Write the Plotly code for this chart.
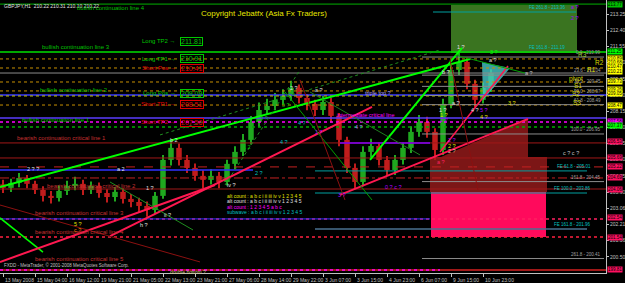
import plotly.graph_objects as go

# ---------------- data ----------------
# 8-hour candles (GBPJPY), oldest first
opens = [204.30, 204.12, 204.38, 204.64, 204.33, 204.01, 203.70, 203.59, 203.96, 204.22,
         204.33, 204.01, 204.22, 203.85, 203.64, 203.91, 203.54, 203.38, 203.17, 202.96,
         203.70, 205.59, 206.22, 205.59, 205.17, 204.75, 204.54, 204.75, 204.43, 205.38,
         206.01, 206.64, 207.58, 208.21, 208.42, 208.74, 208.95, 209.37, 208.84, 208.53,
         208.21, 208.63, 207.90, 206.64, 205.17, 204.43, 206.01, 206.32, 205.59, 205.06,
         205.59, 206.22, 207.06, 207.58, 207.06, 206.11, 208.53, 210.31, 210.73, 209.58,
         208.74, 209.37]
highs = [204.55, 204.60, 204.90, 204.80, 204.50, 204.20, 203.95, 204.25, 204.50, 204.70,
         204.55, 204.45, 204.40, 204.05, 204.15, 204.10, 203.80, 203.60, 203.40, 203.90,
         205.85, 206.60, 206.45, 205.85, 205.40, 205.05, 205.10, 204.95, 205.60, 206.30,
         206.95, 207.90, 208.60, 208.80, 209.10, 209.30, 209.75, 209.55, 209.05, 208.75,
         208.95, 208.85, 208.05, 206.80, 205.40, 206.30, 206.70, 206.50, 205.80, 205.85,
         206.50, 207.35, 207.95, 207.85, 207.25, 208.80, 210.60, 211.25, 210.95, 209.80,
         209.65, 210.35]
lows = [203.85, 203.90, 204.15, 204.10, 203.80, 203.40, 203.30, 203.40, 203.75, 204.00,
        203.75, 203.80, 203.60, 203.35, 203.40, 203.30, 203.10, 202.85, 202.60, 202.75,
        203.55, 205.30, 205.30, 204.90, 204.50, 204.10, 204.30, 204.10, 204.25, 205.10,
        205.80, 206.40, 207.30, 207.95, 208.20, 208.50, 208.70, 208.55, 208.20, 207.90,
        207.95, 207.55, 206.30, 204.90, 204.05, 204.20, 205.70, 205.30, 204.75, 204.80,
        205.35, 205.95, 206.80, 206.75, 205.60, 205.85, 208.30, 210.05, 209.30, 208.35,
        208.55, 209.15]
closes = [204.12, 204.38, 204.64, 204.33, 204.01, 203.70, 203.59, 203.96, 204.22, 204.33,
          204.01, 204.22, 203.85, 203.64, 203.91, 203.54, 203.38, 203.17, 202.96, 203.70,
          205.59, 206.22, 205.59, 205.17, 204.75, 204.54, 204.75, 204.43, 205.38, 206.01,
          206.64, 207.58, 208.21, 208.42, 208.74, 208.95, 209.37, 208.84, 208.53, 208.21,
          208.63, 207.90, 206.64, 205.17, 204.43, 206.01, 206.32, 205.59, 205.06, 205.59,
          206.22, 207.06, 207.58, 207.06, 206.11, 208.53, 210.31, 210.73, 209.58, 208.74,
          209.37, 210.16]
HOURS_PER_CANDLE = 8

time_tick_labels = ["13 May 2008", "15 May 04:00", "16 May 12:00", "19 May 21:00", "21 May 05:00",
                    "22 May 13:00", "23 May 21:00", "27 May 06:00", "28 May 14:00", "29 May 22:00",
                    "3 Jun 07:00", "3 Jun 15:00", "4 Jun 23:00", "6 Jun 07:00", "9 Jun 15:00",
                    "10 Jun 23:00"]
time_tick_hours = [0, 32, 64, 96, 128, 160, 192, 224, 256, 288, 320, 352, 384, 416, 448, 480]

price_ticks = [213.25, 212.40, 211.55, 210.70, 209.85, 209.00, 208.15, 207.30, 206.45,
               205.60, 204.75, 203.90, 203.06, 202.21, 201.36, 200.50]

# full-width horizontal levels
level_prices = [213.77, 211.255, 210.89, 210.415, 210.15, 209.68, 209.21, 209.00, 208.945,
                208.47, 207.79, 207.58, 207.32, 206.48, 205.69, 205.22, 204.64, 204.06,
                202.49, 201.54, 199.81]
# partial horizontal segments (hour start, hour end, price)
seg_start = [-3, 337, 312, 312, 312, 430, -3, -3]
seg_end = [250, 427, 584, 584, 584, 573, 427, 437]
seg_price = [205.06, 206.48, 205.01, 203.85, 201.96, 213.355, 202.49, 199.81]

# fibonacci levels
fib_names = ["0.0", "23.6", "38.2", "50.0", "61.8", "100.0", "161.8", "261.8"]
fib_prices = [210.99, 210.04, 209.45, 208.97, 208.49, 206.95, 204.45, 200.41]
fib_start, fib_end = 419, 601

# FE labels
fe_names = ["FE 261.8 - 213.36", "FE 161.8 - 211.19", "FE 61.8 - 205.01", "FE 100.0 - 203.86",
            "FE 161.8 - 201.96"]
fe_prices = [213.355, 211.255, 205.01, 203.85, 201.96]
fe_hours = [524, 524, 552, 549, 549]

# trend lines (hour0, price0, hour1, price1)
diag_x0 = [-3, 367, -3, -3, 107, 337, 437, 157, 222, 282, 307, 452, 107, -3, 297, 447]
diag_p0 = [204.17, 205.585, 202.54, 200.23, 201.59, 203.75, 206.005, 206.90, 204.27, 209.155,
           209.155, 211.10, 204.43, 203.22, 209.79, 210.835]
diag_x1 = [467, 459, 40, 212, 369, 525, 505, 437, 297, 369, 417, 522, 190, 197, 342, 475]
diag_p1 = [210.89, 211.465, 200.75, 204.27, 208.37, 207.74, 210.52, 211.36, 210.31, 203.485,
           205.85, 210.15, 201.91, 200.23, 203.485, 204.01]

# zones
green_zone_hours = [448, 574]
green_zone_prices = [211.20, 213.72]
maroon_tri_hours = [438, 525, 525]
maroon_tri_prices = [205.74, 207.74, 205.74]
maroon_zone_hours = [427, 544]
maroon_zone_prices = [203.905, 205.74]
pink_zone_hours = [428, 543]
pink_zone_prices = [201.54, 203.905]
cyan_tri_hours = [479, 507, 480]
cyan_tri_prices = [210.73, 210.415, 208.735]

# trade levels
trade_names = ["Long TP2", "Long TP1", "Short Pos", "Long Pos", "Short TP1", "Short TP2"]
trade_prices = [211.81, 210.91, 210.41, 209.09, 208.51, 207.56]

line_names = ["bullish continuation line 4", "bullish continuation line 3",
              "bullish continuation line 2", "bullish continuation line 1",
              "bearish continuation critical line 1", "bearish continuation critical line 2",
              "bearish continuation critical line 3", "bearish continuation critical line 4",
              "bearish continuation critical line 5"]
line_name_hours = [72, 37, 35, 17, 12, 42, 30, 30, 30]
line_name_prices = [213.565, 211.52, 209.26, 207.685, 206.74, 204.22, 202.80, 201.80, 200.39]

pivot_names = ["R3", "R2", "R1", "pivot", "S1", "S2", "S3"]
pivot_hours = [573, 590, 582, 564, 569, 567, 568]
pivot_prices = [211.10, 210.68, 210.31, 209.86, 209.52, 209.10, 208.58]

wave_text = ["1 ?", "3 ?", "a ?", "b ?", "a ?", "a ?", "3 ?", "1 ?", "4 ?", "5 ?", "4 ?", "1 ?",
             "2 ?", "2 ?", "2 ?", "2 ?", "a ?", "c ? c ?", "5 ?", "4 ?", "3 ?", "4 ?", "1 2",
             "2 ?", "iv ?", "1 ?", "4 ?", "2 ?", "a ?", "b 2", "a 2", "2 ? ?", "1 ?", "5 ?",
             "c ?", "h ?", "ii ?", "3 ?", "0 ? c ?", "a ?", "2 ?"]
wave_hours = [452, 485, 484, 437, 520, 447, 503, 434, 466, 475, 475, 435, 435, 443, 443, 443,
              432, 558, 277, 293, 255, 275, 238, 250, 222, 310, 350, 285, 310, 165, 112, 22,
              141, 69, 69, 135, 159, 333, 380, 566, 566]
wave_prices = [211.52, 211.255, 210.84, 210.205, 210.15, 208.58, 208.58, 208.21, 208.21, 208.21,
               207.84, 207.95, 207.685, 206.635, 206.32, 206.06, 205.48, 205.95, 208.47, 207.53,
               207.79, 206.53, 206.27, 204.90, 204.27, 207.055, 207.32, 209.365, 209.26, 206.635,
               205.11, 205.11, 204.115, 202.22, 201.90, 202.17, 202.70, 203.75, 204.17, 213.62,
               213.04]
wave_colors = ["#e0e0e0", "#00ff00", "#e0e0e0", "#e0e0e0", "#c0c0c0", "#e0e0e0", "#e0e000",
               "#e0e0e0", "#e0e0e0", "#b000ff", "#e0e000", "#e0e000", "#b000ff", "#b000ff",
               "#e0e000", "#e0c0a0", "#ff2060", "#c0c0c0", "#00c000", "#00c0c0", "#00c000",
               "#00c0c0", "#00c000", "#00c0c0", "#e0e0e0", "#b000ff", "#b080ff", "#e0e0e0",
               "#e0e0e0", "#e0e0e0", "#e0e0e0", "#e0e0e0", "#e0e0e0", "#e0e000", "#ff8000",
               "#e0e0e0", "#e0e0e0", "#b000ff", "#b000ff", "#a000ff", "#a000ff"]

legend_lines = ["alt count : a b c i ii iii iv v 1 2 3 4 5",
                "alt count : a b c i ii iii iv v 1 2 3 4 5",
                "alt count : 1 2 3 4 5 a b c",
                "subwave : a b c i ii iii iv v 1 2 3 4 5"]
legend_prices = [203.695, 203.43, 203.11, 202.85]

right_box_prices = [213.77, 211.255, 210.89, 210.68, 210.47, 210.205, 209.73, 209.26, 209.05,
                    208.47, 207.58, 207.37, 206.53, 205.69, 205.22, 204.69, 204.06, 202.54,
                    201.54, 199.81]

# ---------------- styles ----------------
FONT = "Liberation Sans"
UP, DN = "#1fa81f", "#c01c1c"
level_styles = [("#00b000", "solid", 1), ("#00e000", "solid", 1.5), ("#c89000", "dot", 1),
                ("#c89000", "dot", 1), ("#8c8c8c", "solid", 1), ("#c89000", "dot", 1),
                ("#c89000", "dot", 1), ("#3a3aff", "solid", 1.5), ("#c8c800", "dot", 1),
                ("#c89000", "dot", 1), ("#5a3cff", "solid", 1.5), ("#ff00ff", "dot", 1.5),
                ("#00b000", "dot", 1.5), ("#a01818", "solid", 1), ("#a01818", "solid", 1),
                ("#c42020", "dash", 1), ("#c42020", "dashdot", 1), ("#a01818", "solid", 1),
                ("#ff2060", "dot", 1.5), ("#ff2040", "dot", 1.5), ("#a01818", "solid", 2)]
seg_styles = [("#3030ff", "solid", 1.5), ("#8000ff", "solid", 1.5), ("#00a0a0", "solid", 1),
              ("#00a0a0", "solid", 1), ("#4a7090", "solid", 1.5), ("#00a0a0", "solid", 1),
              ("#3030ff", "solid", 1), ("#ff00ff", "dot", 1.5)]
diag_styles = [("#00ff00", "solid", 2), ("#00ff00", "solid", 2), ("#00ff00", "solid", 1.5),
               ("#ff1850", "solid", 2), ("#ff1850", "solid", 2), ("#ff1850", "solid", 2),
               ("#ff1850", "solid", 1.5), ("#1f8f1f", "dot", 1), ("#1f8f1f", "dot", 1),
               ("#00a000", "solid", 1), ("#1f7f1f", "solid", 1), ("#00a000", "solid", 1),
               ("#1f8f1f", "solid", 1), ("#8b1010", "solid", 1), ("#8b1010", "solid", 1),
               ("#8b1010", "solid", 1)]
right_box_colors = ["#00c000", "#00ff00", "#ffff00", "#ffff00", "#ffff00", "#ffff00", "#ffff00",
                    "#ffff00", "#ffff00", "#ffff00", "#ff00ff", "#00ff00", "#ff1060", "#ff1060",
                    "#ff1060", "#ff1060", "#ff1060", "#ff1060", "#ff1060", "#ff1060"]

# ---------------- figure ----------------
candle_x = [i * HOURS_PER_CANDLE for i in range(len(closes))]
candle_colors = [UP if c >= o else DN for o, c in zip(opens, closes)]
body_base = [min(o, c) for o, c in zip(opens, closes)]
body_len = [max(abs(c - o), 0.03) for o, c in zip(opens, closes)]
wick_len = [h - l for h, l in zip(highs, lows)]

fig = go.Figure()
fig.add_trace(go.Bar(x=candle_x, y=wick_len, base=lows, width=1.5,
                     marker=dict(color=candle_colors, line=dict(width=0)),
                     hoverinfo="skip", showlegend=False))
fig.add_trace(go.Bar(x=candle_x, y=body_len, base=body_base, width=5.5,
                     marker=dict(color=candle_colors, line=dict(width=0)),
                     hoverinfo="skip", showlegend=False))

shapes = []


def rect(h, p, color, layer="below"):
    shapes.append(dict(type="rect", xref="x", yref="y", x0=h[0], x1=h[1], y0=p[0], y1=p[1],
                       fillcolor=color, line=dict(width=0), layer=layer))


def poly(hs, ps, color, layer="below"):
    path = "M " + " L ".join(f"{h},{p}" for h, p in zip(hs, ps)) + " Z"
    shapes.append(dict(type="path", xref="x", yref="y", path=path, fillcolor=color,
                       line=dict(width=0), layer=layer))


rect(green_zone_hours, green_zone_prices, "#3a7420")
rect(maroon_zone_hours, maroon_zone_prices, "#7c1616")
poly(maroon_tri_hours, maroon_tri_prices, "#7c1616")
rect(pink_zone_hours, pink_zone_prices, "#ff0a5c")
poly(cyan_tri_hours, cyan_tri_prices, "rgba(70,200,200,0.8)", layer="above")

for p, (c, d, w) in zip(level_prices, level_styles):
    shapes.append(dict(type="line", xref="paper", yref="y", x0=0, x1=1, y0=p, y1=p,
                       line=dict(color=c, dash=d, width=w), layer="above"))
for x0, x1, p, (c, d, w) in zip(seg_start, seg_end, seg_price, seg_styles):
    shapes.append(dict(type="line", xref="x", yref="y", x0=x0, x1=x1, y0=p, y1=p,
                       line=dict(color=c, dash=d, width=w), layer="above"))
for p in fib_prices:
    shapes.append(dict(type="line", xref="x", yref="y", x0=fib_start, x1=fib_end, y0=p, y1=p,
                       line=dict(color="#8c8c8c", width=1), layer="above"))
for x0, p0, x1, p1, (c, d, w) in zip(diag_x0, diag_p0, diag_x1, diag_p1, diag_styles):
    shapes.append(dict(type="line", xref="x", yref="y", x0=x0, x1=x1, y0=p0, y1=p1,
                       line=dict(color=c, dash=d, width=w), layer="above"))

ann = []


def txt(x, y, t, color, size=6, xanchor="left", yanchor="middle", xref="x", yref="y", **kw):
    d = dict(x=x, y=y, text=t, xref=xref, yref=yref, showarrow=False, xanchor=xanchor,
             yanchor=yanchor, font=dict(family=FONT, size=size, color=color))
    d.update(kw)
    ann.append(d)


txt(0.003, 0.995, "GBPJPY,H1  210.22 210.31 210.10 210.22", "#e0e0e0", size=5,
    xref="paper", yref="paper", yanchor="top")
txt(196, 213.30, "Copyright Jebatfx (Asia Fx Traders)", "#e6e600", size=8)

line_colors = ["#00c000"] * 4 + ["#c83030"] * 5
for n, h, p, c in zip(line_names, line_name_hours, line_name_prices, line_colors):
    txt(h, p, n, c, size=6)

for n, p in zip(trade_names, trade_prices):
    c = "#00c800" if n.startswith("Long") else "#e00000"
    txt(175, p, n + " \u2192", c, size=6, xanchor="right")
    txt(177, p, f"{p:.2f}", c, size=7, bordercolor=c, borderwidth=1, borderpad=0)

for n, p in zip(fib_names, fib_prices):
    txt(600, p, f"{n} - {p:.2f}", "#a0a0a0", size=4.5, xanchor="right", yanchor="bottom")
for n, h, p in zip(fe_names, fe_hours, fe_prices):
    txt(h, p, n, "#00c0c0", size=4.5, yanchor="bottom")

for n, h, p in zip(pivot_names, pivot_hours, pivot_prices):
    txt(h, p, n, "#9acd32" if n == "R3" else "#d8d800", size=6.5)

for t, h, p, c in zip(wave_text, wave_hours, wave_prices, wave_colors):
    txt(h, p, t, c, size=5.5)

legend_colors = ["#e6e600", "#e0e0e0", "#ff00ff", "#00c0c0"]
for t, p, c in zip(legend_lines, legend_prices, legend_colors):
    txt(222, p, t, c, size=5)

txt(360, 209.10, "triple top ?", "#b0a0ff", size=5.5)
txt(332, 207.95, "intermediate critical line", "#ff00ff", size=5.5)
txt(165, 199.72, "double bottom ?", "#d0c080", size=5)
txt(0.003, 0.012, "FXDD - MetaTrader, \u00a9 2001-2008 MetaQuotes Software Corp.", "#c0c0c0",
    size=4.5, xref="paper", yref="paper", yanchor="bottom")

for p, c in zip(right_box_prices, right_box_colors):
    txt(1, p, f"{p:.2f}", "#000000", size=4.5, xref="paper", xshift=1, bgcolor=c, borderpad=0)

for h, t in zip(time_tick_hours, time_tick_labels):
    txt(h, 0, t, "#c0c0c0", size=5, yref="paper", yanchor="top", yshift=-2)

fig.update_layout(
    width=625, height=283, margin=dict(l=0, r=19, t=0, b=10),
    paper_bgcolor="#000000", plot_bgcolor="#000000", barmode="overlay",
    shapes=shapes, annotations=ann, showlegend=False,
    xaxis=dict(range=[-3, 603], showgrid=False, zeroline=False, showline=True,
               linecolor="#c0c0c0", linewidth=1, tickvals=time_tick_hours, ticks="outside",
               ticklen=3, tickcolor="#c0c0c0", showticklabels=False, fixedrange=True),
    yaxis=dict(range=[199.65, 213.985], side="right", showgrid=False, zeroline=False,
               showline=True, linecolor="#c0c0c0", linewidth=1, tickvals=price_ticks,
               ticktext=[f"{v:.2f}" for v in price_ticks], ticks="outside", ticklen=2,
               tickcolor="#c0c0c0", tickfont=dict(family=FONT, size=5, color="#c0c0c0"),
               fixedrange=True),
)
fig.write_html("out.html")
